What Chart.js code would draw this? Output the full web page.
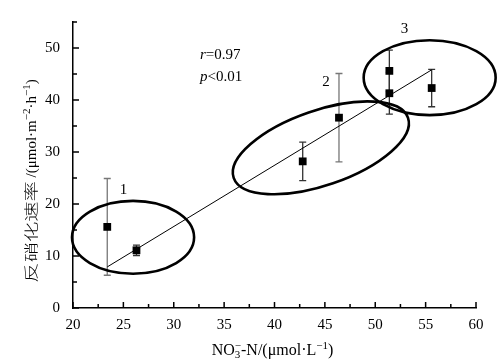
<!DOCTYPE html>
<html>
<head>
<meta charset="utf-8">
<script src="https://cdn.jsdelivr.net/npm/chart.js@4.4.1/dist/chart.umd.min.js"></script>
<style>
  html, body { margin: 0; padding: 0; background: #fff; }
  #wrap { width: 500px; height: 363px; }
</style>
</head>
<body>
<div id="wrap"><canvas id="denitChart"></canvas></div>
<script>
// --- data ---
const nitrate = [23.4, 26.3, 42.8, 46.4, 51.4, 51.4, 55.6];       // NO3-N (umol/L)
const denitRate = [15.6, 11.1, 28.2, 36.6, 45.6, 41.3, 42.3];     // umol m-2 h-1
const rateErr = [9.3, 1.0, 3.7, 8.5, 4.0, 4.0, 3.6];
const fitX = [23.4, 55.6];
const fitY = [7.9, 45.8];

// groups circled in the figure: centre (x, y), radii in axis units, tilt in degrees
const groupNames = ['1', '2', '3'];
const groupCx = [25.96, 44.6, 55.4];
const groupCy = [13.6, 30.8, 44.3];
const groupRx = [6.06, 9.15, 6.55];
const groupRy = [7.0, 7.2, 7.2];
const groupTilt = [0, 19, 0];
const groupLabelX = [25.0, 45.1, 52.9];
const groupLabelY = [22.6, 43.4, 53.6];

const statLines = [['r', '=0.97'], ['p', '<0.01']];
const statX = 32.6;
const statY = [48.6, 44.5];

// axis titles as runs: [text, kind]  kind: n = normal, cjk, sup, sub
const xTitleRuns = [['NO', 'n'], ['3', 'sub', '−'], ['-N/(μmol·L', 'n'], ['−1', 'sup'], [')', 'n']];
const yTitleRuns = [['反硝化速率', 'cjk'], [' /(μmol·m', 'ny'], ['−2', 'sup'], ['·h', 'ny'], ['−1', 'sup'], [')', 'ny']];

const errColors = ['#777', '#333', '#333', '#777', '#333', '#333', '#333'];
const serif = "'Liberation Serif', serif";
const cjk = "'Noto Sans CJK SC', sans-serif";
const cjkStretch = 1.45;

function runFont(kind) {
    if (kind === 'cjk') return '300 14px ' + cjk;
    if (kind === 'sup' || kind === 'sub') return '11px ' + serif;
    if (kind === 'ny') return '15px ' + serif;
    return '16px ' + serif;
}

// draws text runs starting at (0,0) baseline, returns width
function drawRuns(ctx, runs, dry) {
    let px = 0;
    runs.forEach(function(r) {
        ctx.font = runFont(r[1]);
        if (r[1] === 'cjk') {
            // the original set these characters wide
            const w = ctx.measureText(r[0]).width * cjkStretch;
            if (!dry) {
                ctx.save();
                ctx.translate(px, 0);
                ctx.scale(cjkStretch, 1);
                ctx.fillText(r[0], 0, 0);
                ctx.restore();
            }
            px += w;
            return;
        }
        let w = ctx.measureText(r[0]).width;
        let dy = 0;
        if (r[1] === 'sup') dy = -6;
        if (r[1] === 'sub') dy = 3;
        if (!dry) ctx.fillText(r[0], px, dy);
        if (r[2]) {
            const w2 = ctx.measureText(r[2]).width;
            if (!dry) ctx.fillText(r[2], px, -6);
            w = Math.max(w, w2);
        }
        px += w;
    });
    return px;
}

// error bars under the markers
const errorBars = {
    id: 'errorBars',
    beforeDatasetsDraw(chart) {
        const { ctx, scales: { x, y } } = chart;
        ctx.save();
        nitrate.forEach(function(v, i) {
            const px = x.getPixelForValue(v);
            const top = y.getPixelForValue(denitRate[i] + rateErr[i]);
            const bot = y.getPixelForValue(denitRate[i] - rateErr[i]);
            ctx.strokeStyle = errColors[i];
            ctx.lineWidth = 1.3;
            ctx.beginPath();
            ctx.moveTo(px, top); ctx.lineTo(px, bot);
            ctx.moveTo(px - 3.5, top); ctx.lineTo(px + 3.5, top);
            ctx.moveTo(px - 3.5, bot); ctx.lineTo(px + 3.5, bot);
            ctx.stroke();
        });
        ctx.restore();
    }
};

// inward ticks, ellipses, labels, axis titles
const decorations = {
    id: 'decorations',
    afterDraw(chart) {
        const { ctx, scales: { x, y }, chartArea } = chart;
        ctx.save();
        ctx.strokeStyle = '#000';
        ctx.lineWidth = 1.5;
        ctx.beginPath();
        x.ticks.forEach(function(t) {
            const px = x.getPixelForValue(t.value);
            const len = t.value % 5 === 0 ? 6 : 4;
            ctx.moveTo(px, chartArea.bottom); ctx.lineTo(px, chartArea.bottom - len);
        });
        y.ticks.forEach(function(t) {
            const py = y.getPixelForValue(t.value);
            const len = t.value % 10 === 0 ? 6 : 4;
            ctx.moveTo(chartArea.left, py); ctx.lineTo(chartArea.left + len, py);
        });
        ctx.stroke();

        // circled groups
        ctx.lineWidth = 2.6;
        groupNames.forEach(function(name, i) {
            const cx = x.getPixelForValue(groupCx[i]);
            const cy = y.getPixelForValue(groupCy[i]);
            const rx = Math.abs(x.getPixelForValue(groupCx[i] + groupRx[i]) - cx);
            const ry = Math.abs(y.getPixelForValue(groupCy[i] + groupRy[i]) - cy);
            ctx.beginPath();
            ctx.ellipse(cx, cy, rx, ry, -groupTilt[i] * Math.PI / 180, 0, Math.PI * 2);
            ctx.stroke();
        });

        ctx.fillStyle = '#000';
        ctx.font = '15px ' + serif;
        ctx.textAlign = 'center';
        ctx.textBaseline = 'middle';
        groupNames.forEach(function(name, i) {
            ctx.fillText(name, x.getPixelForValue(groupLabelX[i]), y.getPixelForValue(groupLabelY[i]));
        });

        // r and p values, italic letter first
        ctx.textAlign = 'left';
        statLines.forEach(function(parts, i) {
            let px = x.getPixelForValue(statX);
            const py = y.getPixelForValue(statY[i]);
            ctx.font = 'italic 15px ' + serif;
            ctx.fillText(parts[0], px, py);
            px += ctx.measureText(parts[0]).width;
            ctx.font = '15px ' + serif;
            ctx.fillText(parts[1], px, py);
        });

        // axis titles
        ctx.textBaseline = 'alphabetic';
        const xw = drawRuns(ctx, xTitleRuns, true);
        ctx.save();
        ctx.translate((chartArea.left + chartArea.right) / 2 - 2 - xw / 2, 355);
        drawRuns(ctx, xTitleRuns, false);
        ctx.restore();

        const yw = drawRuns(ctx, yTitleRuns, true);
        ctx.save();
        ctx.translate(36, 181 + yw / 2);
        ctx.rotate(-Math.PI / 2);
        drawRuns(ctx, yTitleRuns, false);
        ctx.restore();
        ctx.restore();
    }
};

const ctx = document.getElementById('denitChart').getContext('2d');
new Chart(ctx, {
    type: 'scatter',
    data: {
        datasets: [
            {
                label: 'rate',
                data: nitrate.map(function(v, i) { return { x: v, y: denitRate[i] }; }),
                pointStyle: 'rect',
                pointRadius: 5.5,
                backgroundColor: '#000',
                borderColor: '#000',
                borderWidth: 0
            },
            {
                label: 'fit',
                type: 'line',
                data: fitX.map(function(v, i) { return { x: v, y: fitY[i] }; }),
                borderColor: '#000',
                borderWidth: 1,
                pointRadius: 0,
                fill: false
            }
        ]
    },
    options: {
        responsive: true,
        maintainAspectRatio: false,
        animation: false,
        layout: { padding: { top: 10, right: 24, left: 0, bottom: 0 } },
        plugins: {
            legend: { display: false },
            tooltip: { enabled: false }
        },
        scales: {
            x: {
                type: 'linear',
                min: 20,
                max: 60,
                afterFit: function(scale) { scale.height = 55; },
                ticks: {
                    stepSize: 2.5,
                    autoSkip: false,
                    maxRotation: 0,
                    padding: 8,
                    color: '#000',
                    font: { family: serif, size: 15 },
                    callback: function(value) { return value % 5 === 0 ? value : ''; }
                },
                grid: { display: true, drawOnChartArea: false, drawTicks: false },
                border: { display: true, color: '#000', width: 1.5 }
            },
            y: {
                type: 'linear',
                min: 0,
                max: 55,
                afterFit: function(scale) { scale.width = 73; },
                ticks: {
                    stepSize: 5,
                    autoSkip: false,
                    padding: 13,
                    color: '#000',
                    font: { family: serif, size: 15 },
                    callback: function(value) { return value % 10 === 0 ? value : ''; }
                },
                grid: { display: true, drawOnChartArea: false, drawTicks: false },
                border: { display: true, color: '#000', width: 1.5 }
            }
        }
    },
    plugins: [errorBars, decorations]
});
</script>
</body>
</html>
